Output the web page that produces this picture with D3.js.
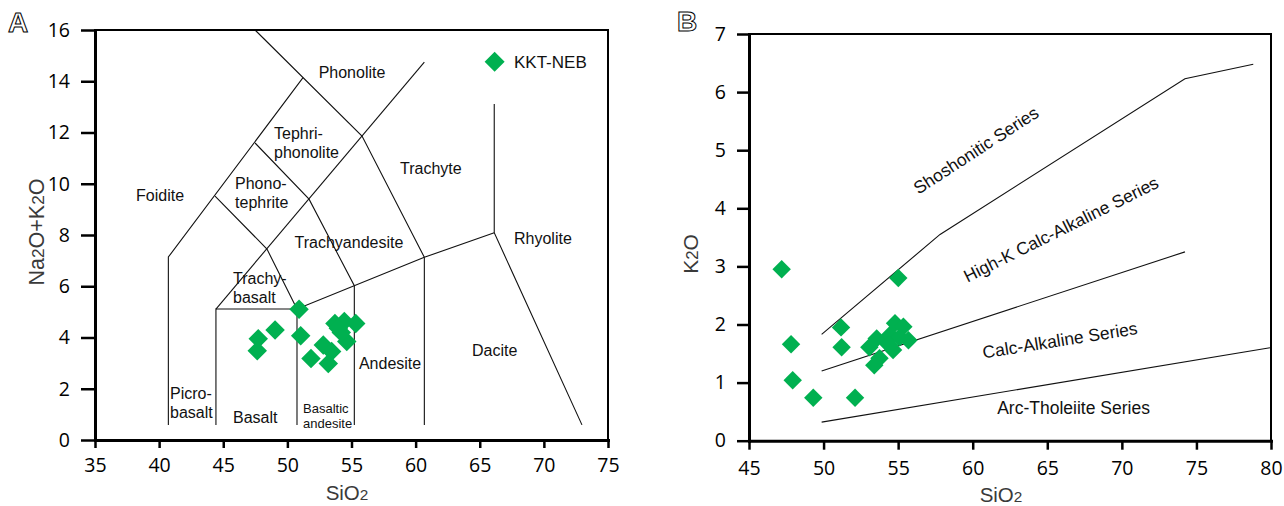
<!DOCTYPE html>
<html><head><meta charset="utf-8">
<script src="https://cdn.jsdelivr.net/npm/d3@7"></script>
<style>body{margin:0;background:#fff}svg{display:block}</style>
</head><body>
<svg id="chart" width="1284" height="506"></svg>
<script>
// ---------- DATA ----------
// Panel A: TAS diagram
const tasSeriesName = "KKT-NEB";
const tasSiO2 = [50.91, 47.73, 47.65, 49.04, 51.04, 51.84, 52.80, 53.45, 53.19, 53.71, 54.44, 55.33, 53.97, 54.63, 54.2];
const tasAlkali = [5.10, 3.95, 3.48, 4.29, 4.07, 3.18, 3.71, 3.45, 2.99, 4.55, 4.62, 4.55, 4.36, 3.84, 4.2];
const tasXTicks = [35, 40, 45, 50, 55, 60, 65, 70, 75];
const tasYTicks = [0, 2, 4, 6, 8, 10, 12, 14, 16];
const tasBoundaries = [
  [[47.48, 16.0], [55.82, 11.86], [60.68, 7.13]],
  [[60.68, 14.75], [44.43, 5.11]],
  [[40.72, 0.59], [40.72, 7.14], [51.22, 14.14]],
  [[44.36, 9.52], [48.41, 7.45], [50.75, 5.11]],
  [[47.48, 11.59], [51.69, 9.40], [55.22, 6.02], [55.22, 0.59]],
  [[44.43, 0.59], [44.43, 5.11], [50.75, 5.11], [60.68, 7.13], [66.13, 8.09]],
  [[50.75, 5.11], [50.75, 0.59]],
  [[60.68, 7.13], [60.68, 0.59]],
  [[66.13, 13.11], [66.13, 8.09], [72.97, 0.59]]
];
const tasFieldNames = [["Phonolite"], ["Tephri-", "phonolite"], ["Phono-", "tephrite"], ["Foidite"], ["Trachyte"], ["Rhyolite"], ["Trachyandesite"], ["Trachy-", "basalt"], ["Picro-", "basalt"], ["Basalt"], ["Basaltic", "andesite"], ["Andesite"], ["Dacite"]];
// label anchor positions (in diagram units)
const tasFieldPos = [[55.04, 14.36, "middle"], [48.96, 11.98, "start"], [45.92, 10.03, "start"], [40.07, 9.56, "middle"], [58.78, 10.58, "start"], [67.67, 7.88, "start"], [54.80, 7.73, "middle"], [45.76, 6.32, "start"], [40.85, 1.80, "start"], [45.76, 0.90, "start"], [51.22, 1.25, "start"], [55.58, 3.00, "start"], [64.40, 3.51, "start"]];

// Panel B: SiO2 vs K2O
const kSiO2 = [47.19, 55.01, 51.17, 47.82, 51.21, 53.07, 47.93, 49.31, 52.11, 53.40, 53.75, 53.56, 54.20, 54.45, 54.79, 55.35, 54.66, 55.69, 55.10, 54.40];
const kK2O  = [2.95, 2.80, 1.95, 1.66, 1.61, 1.61, 1.04, 0.74, 0.74, 1.30, 1.42, 1.76, 1.70, 1.82, 2.02, 1.96, 1.56, 1.73, 1.78, 1.65];
const kXTicks = [45, 50, 55, 60, 65, 70, 75, 80];
const kYTicks = [0, 1, 2, 3, 4, 5, 6, 7];
const kBoundaries = [
  [[49.87, 1.83], [57.81, 3.55], [74.23, 6.23], [78.81, 6.48]],
  [[49.87, 1.20], [74.23, 3.25]],
  [[49.87, 0.32], [79.93, 1.60]]
];
const kSeriesNames = ["Shoshonitic Series", "High-K Calc-Alkaline Series", "Calc-Alkaline Series", "Arc-Tholeiite Series"];
const kSeriesPos = [[60.22, 5.00, -33], [65.92, 3.64, -26.5], [65.85, 1.73, -9], [66.76, 0.56, 0]];

// ---------- DRAWING ----------
const svg = d3.select("#chart");
const GREEN = "#00b050";
const labelFont = "'Liberation Sans', Arial, sans-serif";
const tickFont = "'Open Sans', 'Noto Sans', sans-serif";

function drawFrame(g, x, y, xTicks, yTicks, ySize, xSize, yPad, xPad) {
  const [x0, x1] = x.range(), [y0, y1] = y.range();
  g.append("path").attr("d", `M${x0},${y1}H${x1}V${y0}`).attr("fill", "none").attr("stroke", "#000").attr("stroke-width", 2);
  const ax = g.append("g").attr("transform", `translate(0,${y0})`)
    .call(d3.axisBottom(x).tickValues(xTicks).tickFormat(d => String(d)).tickSize(xSize).tickSizeOuter(0).tickPadding(xPad));
  const ay = g.append("g").attr("transform", `translate(${x0},0)`)
    .call(d3.axisLeft(y).tickValues(yTicks).tickFormat(d => String(d)).tickSize(ySize).tickSizeOuter(0).tickPadding(yPad));
  [ax, ay].forEach(a => {
    a.select(".domain").attr("stroke-width", 3).attr("stroke-linecap", "square");
    a.selectAll(".tick line").attr("stroke-width", 2.5);
    a.selectAll(".tick text").attr("font-family", tickFont).attr("font-size", 19.5).attr("fill", "#000");
  });
}

function subText(g, parts, size, ratio) {
  const t = g.append("text").attr("font-family", labelFont).attr("fill", "#3a3a3a").attr("font-size", size);
  parts.forEach(p => t.append("tspan").text(p[0]).attr("font-size", p[1] ? size * ratio : size));
  return t;
}

function panelLetter(text, px, py) {
  svg.append("text").attr("x", px).attr("y", py).text(text)
    .attr("font-family", labelFont).attr("font-weight", "bold").attr("font-size", 28)
    .attr("fill", "#fff").attr("stroke", "#000").attr("stroke-width", 1);
}

const line = (x, y) => d3.line().x(d => x(d[0])).y(d => y(d[1]));
const diamond = s => d3.symbol(d3.symbolSquare, s)();

// ----- Panel A -----
{
  const x = d3.scaleLinear().domain([35, 75]).range([95, 608]);
  const y = d3.scaleLinear().domain([0, 16]).range([440, 30]);
  const g = svg.append("g");
  g.selectAll("path.bnd").data(tasBoundaries).join("path").attr("class", "bnd")
    .attr("d", line(x, y)).attr("fill", "none").attr("stroke", "#111").attr("stroke-width", 1.1);
  tasFieldNames.forEach((lines, i) => {
    const [px, py, anchor] = tasFieldPos[i];
    const small = lines[0] === "Basaltic";
    const fs = small ? 13 : 16;
    const lh = small ? 15 : 19;
    lines.forEach((s, j) => {
      g.append("text").attr("x", x(px)).attr("y", y(py) + j * lh).attr("dy", "0.35em")
        .attr("text-anchor", anchor).attr("font-family", labelFont).attr("font-size", fs)
        .attr("fill", "#111").text(s);
    });
  });
  drawFrame(g, x, y, tasXTicks, tasYTicks, 14, 8, 11, 10);
  g.selectAll("path.pt").data(tasSiO2).join("path").attr("class", "pt")
    .attr("d", diamond(190)).attr("fill", GREEN)
    .attr("transform", (d, i) => `translate(${x(d)},${y(tasAlkali[i])}) rotate(45)`);
  g.append("path").attr("d", diamond(200)).attr("fill", GREEN)
    .attr("transform", `translate(${x(66.16)},${y(14.76)}) rotate(45)`);
  g.append("text").attr("x", x(67.67)).attr("y", y(14.76)).attr("dy", "0.35em")
    .attr("font-family", labelFont).attr("font-size", 17).attr("fill", "#111").text(tasSeriesName);
  subText(g, [["SiO"], ["2", true]], 20.5, 0.75).attr("x", 347).attr("y", 500).attr("text-anchor", "middle");
  subText(g, [["Na"], ["2", true], ["O+K"], ["2", true], ["O"]], 21.5, 0.8)
    .attr("text-anchor", "middle").attr("transform", "translate(44,232) rotate(-90)");
  panelLetter("A", 8, 32);
}

// ----- Panel B -----
{
  const x = d3.scaleLinear().domain([45, 80]).range([749, 1271]);
  const y = d3.scaleLinear().domain([0, 7]).range([440.7, 34]);
  const g = svg.append("g");
  g.selectAll("path.bnd").data(kBoundaries).join("path").attr("class", "bnd")
    .attr("d", line(x, y)).attr("fill", "none").attr("stroke", "#111").attr("stroke-width", 1.1);
  kSeriesNames.forEach((s, i) => {
    const [px, py, rot] = kSeriesPos[i];
    g.append("text").attr("transform", `translate(${x(px)},${y(py)}) rotate(${rot})`)
      .attr("dy", "0.35em").attr("text-anchor", "middle").attr("font-family", labelFont)
      .attr("font-size", 17.5).attr("fill", "#111").text(s);
  });
  drawFrame(g, x, y, kXTicks, kYTicks, 12, 9, 11, 11);
  g.selectAll("path.pt").data(kSiO2).join("path").attr("class", "pt")
    .attr("d", diamond(170)).attr("fill", GREEN)
    .attr("transform", (d, i) => `translate(${x(d)},${y(kK2O[i])}) rotate(45)`);
  subText(g, [["SiO"], ["2", true]], 20.5, 0.75).attr("x", 1001).attr("y", 502).attr("text-anchor", "middle");
  subText(g, [["K"], ["2", true], ["O"]], 21, 0.8)
    .attr("text-anchor", "middle").attr("transform", "translate(698,254) rotate(-90)");
  panelLetter("B", 677, 31);
}
</script>
</body></html>
